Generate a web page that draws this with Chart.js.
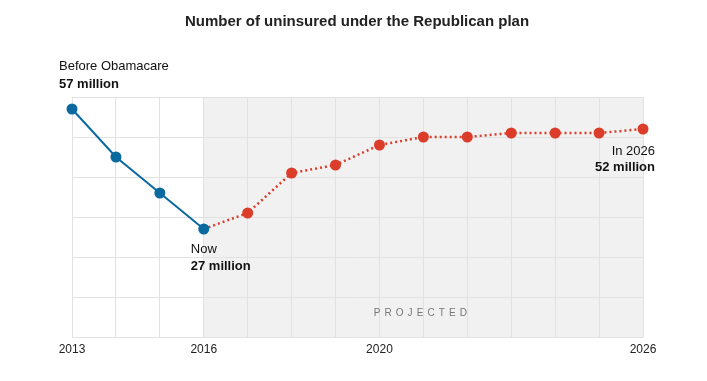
<!DOCTYPE html>
<html><head><meta charset="utf-8">
<script src="https://cdn.jsdelivr.net/npm/chart.js@4"></script>
<style>html,body{margin:0;padding:0;background:#fff}#wrap{width:707px;height:381px;position:relative}</style>
</head><body><div id="wrap"><canvas id="c"></canvas></div>
<script>
const chartTitle = "Number of uninsured under the Republican plan";
const years = [2013,2014,2015,2016,2017,2018,2019,2020,2021,2022,2023,2024,2025,2026];
const actualValues = [57,45,36,27,null,null,null,null,null,null,null,null,null,null];
const projectedValues = [null,null,null,27,31,41,43,48,50,50,51,51,51,52];
const xTickLabels = [2013,2016,2020,2026];
const yMin = 0, yMax = 60, yStep = 10;
const projectionStart = 2016, projectionEnd = 2026;
const projectedLabel = "PROJECTED";
const startNote = ["Before Obamacare", "57 million"];
const nowNote = ["Now", "27 million"];
const endNote = ["In 2026", "52 million"];

const BLUE = '#0a699f', RED = '#dc3d2a';
const SANS = '"Liberation Sans", Arial, Helvetica, sans-serif';

const toXY = arr => years.map((y,i)=>({x:y, y:arr[i]}));

const decor = {
  id:'decor',
  beforeDraw(chart){
    const {ctx, scales:{x,y}} = chart;
    const x0 = x.getPixelForValue(projectionStart), x1 = x.getPixelForValue(projectionEnd);
    ctx.save();
    ctx.fillStyle = '#f1f1f1';
    ctx.fillRect(x0, y.getPixelForValue(yMax), x1-x0, y.getPixelForValue(yMin)-y.getPixelForValue(yMax));
    ctx.restore();
  },
  beforeDatasetsDraw(chart){
    const {ctx, scales:{x,y}} = chart;
    ctx.save();
    ctx.font = '10px ' + SANS;
    ctx.fillStyle = '#777';
    ctx.letterSpacing = '4.1px';
    ctx.textAlign = 'center';
    ctx.textBaseline = 'alphabetic';
    const cx = (x.getPixelForValue(projectionStart)+x.getPixelForValue(projectionEnd))/2;
    ctx.fillText(projectedLabel, cx - 1, y.getPixelForValue(5) - 1);
    ctx.restore();
  },
  afterDraw(chart){
    const {ctx} = chart;
    ctx.save();
    ctx.fillStyle = '#222';
    ctx.font = 'bold 15px ' + SANS;
    ctx.textAlign = 'center';
    ctx.textBaseline = 'alphabetic';
    ctx.fillText(chartTitle, 357, 26);

    const blue = chart.getDatasetMeta(0).data;
    const red = chart.getDatasetMeta(1).data;
    const note = (lines, px, py, dx, dy1, dy2, align) => {
      ctx.textAlign = align;
      ctx.fillStyle = '#111';
      ctx.font = '13px ' + SANS;
      ctx.fillText(lines[0], px+dx, py+dy1);
      ctx.font = 'bold 13px ' + SANS;
      ctx.fillText(lines[1], px+dx, py+dy2);
    };
    note(startNote, blue[0].x, blue[0].y, -13, -39, -21, 'left');
    note(nowNote, blue[3].x, blue[3].y, -13, 24, 41, 'left');
    const last = red[red.length-1];
    note(endNote, last.x, last.y, 12, 26, 42, 'right');
    ctx.restore();
  }
};

new Chart(document.getElementById('c'), {
  type:'line',
  data:{ datasets:[
    { data: toXY(actualValues), borderColor: BLUE, backgroundColor: BLUE, borderWidth: 2,
      pointRadius: 5.5, pointBorderWidth: 0, pointHoverRadius: 5.5, spanGaps:false, clip:false },
    { data: toXY(projectedValues), borderColor: RED, backgroundColor: RED, borderWidth: 2.5,
      borderDash:[2,3], pointRadius: c => c.dataIndex===3 ? 0 : 5.5, pointBorderWidth: 0,
      pointHoverRadius: 5.5, spanGaps:false, clip:false }
  ]},
  options:{
    responsive:true, maintainAspectRatio:false, animation:false,
    events:[],
    layout:{ padding:{ left:72, right:64, top:97, bottom:22 } },
    plugins:{ legend:{display:false}, tooltip:{enabled:false}, title:{display:false} },
    scales:{
      x:{ type:'linear', min: years[0], max: years[years.length-1],
        afterBuildTicks: s => { s.ticks = years.map(v=>({value:v})); },
        afterFit: s => { s.height = 22; },
        grid:{ color:'#e2e2e2', lineWidth:1, drawTicks:false },
        border:{ display:false },
        ticks:{ autoSkip:false, maxRotation:0, padding:5, color:'#222',
          font:{ family: SANS, size:12 },
          callback: v => xTickLabels.includes(v) ? String(v) : '' } },
      y:{ min:yMin, max:yMax,
        afterFit: s => { s.width = 0; },
        ticks:{ display:false, stepSize:yStep },
        grid:{ color:'#e2e2e2', lineWidth:1, drawTicks:false },
        border:{ display:false } }
    }
  },
  plugins:[decor]
});
</script></body></html>
